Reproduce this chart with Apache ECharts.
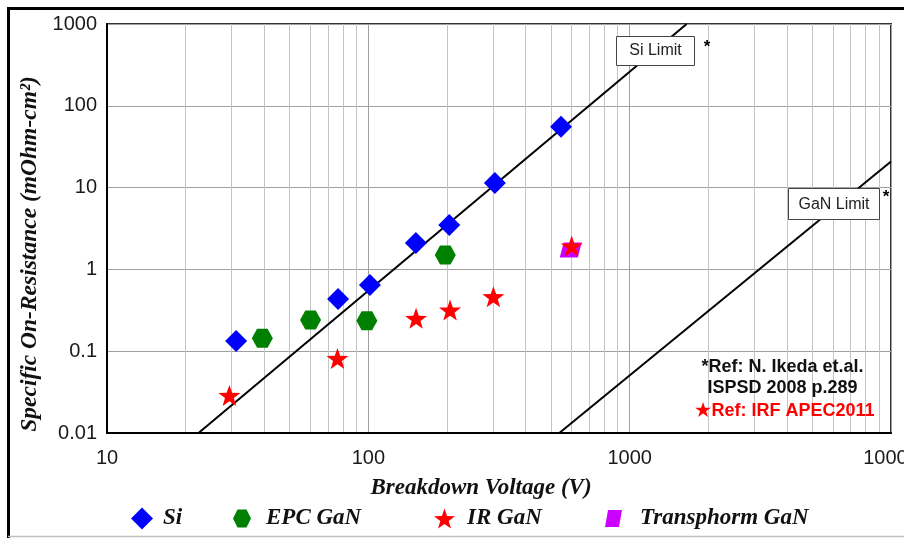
<!DOCTYPE html>
<html>
<head>
<meta charset="utf-8">
<script src="https://cdn.jsdelivr.net/npm/echarts@6/dist/echarts.min.js"></script>
<style>
html,body{margin:0;padding:0;background:#fff;}
#c{width:904px;height:538px;}
</style>
</head>
<body>
<div id="c"></div>
<script>
// ---- data ----
const siV = [31.2, 76.6, 101.4, 152, 204, 305, 546];
const siR = [0.133, 0.434, 0.645, 2.1, 3.49, 11.4, 55.3];
const epcV = [39.3, 60.1, 98.7, 197];
const epcR = [0.1435, 0.24, 0.235, 1.5];
const irV = [29.4, 76.2, 152.3, 205.5, 301, 600];
const irR = [0.0288, 0.0817, 0.252, 0.318, 0.463, 1.93];
const tpV = [595];
const tpR = [1.73];
const siLimitV = [22.4, 1652];
const siLimitR = [0.01, 1000];
const ganLimitV = [538, 10000];
const ganLimitR = [0.01, 20.8];
const minorGridV = [20,30,40,50,60,70,80,90,200,300,400,500,600,700,800,900,2000,3000,4000,5000,6000,7000,8000,9000];
const xRange = [10, 10000];
const yRange = [0.01, 1000];
const seriesNames = ['Si', 'EPC GaN', 'IR GaN', 'Transphorm GaN'];
const refLines = ['*Ref: N. Ikeda et.al.', 'ISPSD 2008 p.289', '\u2605Ref: IRF APEC2011'];
const limitLabels = ['Si Limit', 'GaN Limit'];

const pair = (a, b) => a.map((v, i) => [v, b[i]]);

const STAR = 'path://M50 0 L61.76 33.82 L97.55 34.55 L69.02 56.18 L79.39 90.45 L50 70 L20.61 90.45 L30.98 56.18 L2.45 34.55 L38.24 33.82 Z';
const HEX = 'path://M0 50 L25 0 L75 0 L100 50 L75 100 L25 100 Z';
const PARA = 'path://M18 0 L100 0 L82 100 L0 100 Z';

const serifFont = {fontFamily: '"Liberation Serif", "Times New Roman", serif', fontWeight: 'bold', fontStyle: 'italic', fontSize: 23, color: '#111'};
const fmt = v => String(Number(Number(v).toPrecision(6)));

const chart = echarts.init(document.getElementById('c'), null, {renderer: 'canvas'});

function legend(name, icon, left, w, h, padLeft) {
  return {
    data: [{name: name, icon: icon}],
    left: left, top: 507, padding: 0,
    itemWidth: w, itemHeight: h,
    textStyle: Object.assign({}, serifFont, {padding: [0, 0, 0, padLeft]}),
    selectedMode: false
  };
}

chart.setOption({
  animation: false,
  grid: {left: 107, right: 13, top: 24, bottom: 105, containLabel: false, outerBoundsMode: 'none',
         show: true, borderColor: '#333', borderWidth: 2, backgroundColor: 'transparent'},
  xAxis: {
    type: 'log', logBase: 10, min: xRange[0], max: xRange[1],
    name: 'Breakdown Voltage (V)', nameLocation: 'middle', nameGap: 44,
    nameTextStyle: Object.assign({}, serifFont, {padding: [0, 36, 0, 0]}),
    axisLine: {show: true, lineStyle: {color: '#000', width: 2}},
    axisTick: {show: false},
    axisLabel: {margin: 15, fontSize: 20, color: '#1a1a1a', fontFamily: '"Liberation Sans", Arial, sans-serif', formatter: fmt, showMaxLabel: true, showMinLabel: true},
    splitLine: {show: true, lineStyle: {color: '#a0a0a0', width: 1}}
  },
  yAxis: {
    type: 'log', logBase: 10, min: yRange[0], max: yRange[1],
    name: 'Specific On-Resistance (mOhm-cm\u00b2)', nameLocation: 'middle', nameGap: 62,
    nameTextStyle: Object.assign({}, serifFont, {fontSize: 23.5, padding: [0, 51, 0, 0]}),
    axisLine: {show: true, lineStyle: {color: '#000', width: 2}},
    axisTick: {show: false},
    axisLabel: {margin: 10, fontSize: 20, color: '#1a1a1a', fontFamily: '"Liberation Sans", Arial, sans-serif', formatter: fmt},
    splitLine: {show: true, lineStyle: {color: '#a0a0a0', width: 1}}
  },
  legend: [
    legend(seriesNames[0], 'diamond', 131, 22, 22, 5),
    legend(seriesNames[1], HEX, 233, 20, 18, 9),
    legend(seriesNames[2], STAR, 434, 21, 20, 7),
    legend(seriesNames[3], PARA, 605, 23, 17, 10)
  ],
  series: [
    {
      type: 'line', name: 'minor', silent: true, data: [], z: 0,
      markLine: {
        silent: true, symbol: 'none', animation: false, z: 0,
        label: {show: false},
        emphasis: {disabled: true},
        lineStyle: {color: '#c4c4c4', width: 1, type: 'solid'},
        data: minorGridV.map(v => ({xAxis: v}))
      }
    },
    {type: 'line', name: 'SiLimit', data: pair(siLimitV, siLimitR), showSymbol: false, symbol: 'none', silent: true, z: 2,
     lineStyle: {color: '#000', width: 2}},
    {type: 'line', name: 'GaNLimit', data: pair(ganLimitV, ganLimitR), showSymbol: false, symbol: 'none', silent: true, z: 2,
     lineStyle: {color: '#000', width: 2}},
    {type: 'scatter', name: seriesNames[0], data: pair(siV, siR), symbol: 'diamond', symbolSize: 22, z: 3,
     itemStyle: {color: '#0000ff', opacity: 1}},
    {type: 'scatter', name: seriesNames[1], data: pair(epcV, epcR), symbol: HEX, symbolSize: [21, 19], z: 3,
     itemStyle: {color: '#008000', opacity: 1}},
    {type: 'scatter', name: seriesNames[3], data: pair(tpV, tpR), symbol: PARA, symbolSize: [22, 15], z: 3,
     itemStyle: {color: '#cc00ff', opacity: 1}},
    {type: 'scatter', name: seriesNames[2], data: pair(irV, irR), symbol: STAR, symbolSize: [22, 21], z: 4,
     itemStyle: {color: '#ff0000', opacity: 1}}
  ],
  graphic: [
    // outer frame
    {type: 'line', shape: {x1: 7, y1: 8.5, x2: 904, y2: 8.5}, style: {stroke: '#000', lineWidth: 3}, z: 10},
    {type: 'line', shape: {x1: 8.5, y1: 7, x2: 8.5, y2: 538}, style: {stroke: '#000', lineWidth: 3}, z: 10},
    {type: 'line', shape: {x1: 8, y1: 536.5, x2: 904, y2: 536.5}, style: {stroke: '#c0c0c0', lineWidth: 1.5}, z: 10},
    // Si limit label
    {type: 'rect', shape: {x: 616.5, y: 36.5, width: 78, height: 29}, style: {fill: '#fff', stroke: '#444', lineWidth: 1}, z: 20},
    {type: 'text', x: 655.5, y: 51, style: {text: limitLabels[0], fill: '#222', font: '16px "Liberation Sans", Arial, sans-serif', align: 'center', verticalAlign: 'middle'}, z: 21},
    {type: 'text', x: 707, y: 47, style: {text: '*', fill: '#000', font: 'bold 17px "Liberation Sans", Arial, sans-serif', align: 'center', verticalAlign: 'middle'}, z: 21},
    // GaN limit label
    {type: 'rect', shape: {x: 788.5, y: 188.5, width: 91, height: 31}, style: {fill: '#fff', stroke: '#444', lineWidth: 1}, z: 20},
    {type: 'text', x: 834, y: 204.5, style: {text: limitLabels[1], fill: '#222', font: '16px "Liberation Sans", Arial, sans-serif', align: 'center', verticalAlign: 'middle'}, z: 21},
    {type: 'text', x: 886, y: 197, style: {text: '*', fill: '#000', font: 'bold 17px "Liberation Sans", Arial, sans-serif', align: 'center', verticalAlign: 'middle'}, z: 21},
    // references
    {type: 'text', x: 782.5, y: 367, style: {text: refLines[0], fill: '#111', font: 'bold 18px "Liberation Sans", Arial, sans-serif', align: 'center', verticalAlign: 'middle'}, z: 21},
    {type: 'text', x: 782.5, y: 388, style: {text: refLines[1], fill: '#111', font: 'bold 18px "Liberation Sans", Arial, sans-serif', align: 'center', verticalAlign: 'middle'}, z: 21},
    {type: 'text', x: 785, y: 411, style: {text: refLines[2], fill: '#ff0000', font: 'bold 18px "Liberation Sans", Arial, sans-serif', align: 'center', verticalAlign: 'middle'}, z: 21}
  ]
});
</script>
</body>
</html>
